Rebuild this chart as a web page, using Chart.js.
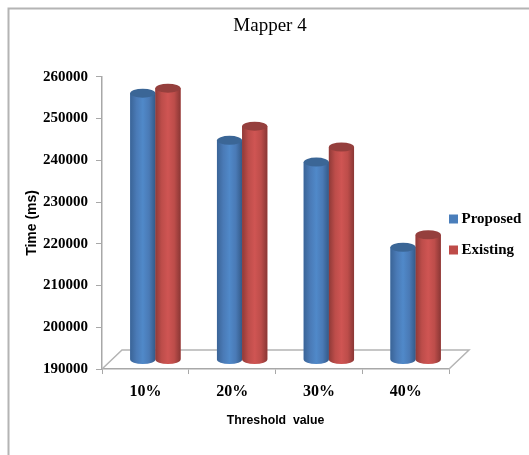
<!DOCTYPE html>
<html>
<head>
<meta charset="utf-8">
<title>Mapper 4</title>
<script src="https://cdn.jsdelivr.net/npm/chart.js@4"></script>
<style>
	html, body { margin: 0; padding: 0; background: #fff; }
	#box { position: relative; width: 529px; height: 455px; overflow: hidden; }
	canvas { display: block; }
</style>
</head>
<body>
<div id="box"><canvas id="mapperChart" width="529" height="455"></canvas></div>
<script>
const categories = ['10%', '20%', '30%', '40%'];
const proposed = [253800, 242500, 237300, 216900];
const existing = [255000, 245900, 240900, 219900];
const yTicks = [190000, 200000, 210000, 220000, 230000, 240000, 250000, 260000];

// floor depth of the fake 3D look
const depthX = 20;
const depthY = 19;

const blueShades = ['#3a6497', '#4a7ab6', '#5089c9', '#4a7ab6', '#345a88'];
const redShades = ['#8f3a38', '#bd4d4a', '#cf5553', '#bd4d4a', '#8a3735'];
const capColors = ['#3b6696', '#953f3d'];
const legendColors = ['#4a7ebb', '#be4b48'];

function cylinderFill(ctx, left, right, shades) {
	const grad = ctx.createLinearGradient(left, 0, right, 0);
	shades.forEach((c, i) => grad.addColorStop(i / (shades.length - 1), c));
	return grad;
}

function drawCylinder(ctx, bar, floorY, shades, capColor) {
	const left = bar.x - bar.width / 2;
	const right = bar.x + bar.width / 2;
	// bars start at value 0 for the library, the visible part ends on the floor
	const base = Math.min(bar.base, floorY);
	const ry = 4.5;
	ctx.fillStyle = cylinderFill(ctx, left, right, shades);
	ctx.beginPath();
	ctx.moveTo(left, bar.y);
	ctx.lineTo(left, base);
	ctx.ellipse(bar.x, base, bar.width / 2, ry, 0, Math.PI, 0, true);
	ctx.lineTo(right, bar.y);
	ctx.closePath();
	ctx.fill();
	ctx.fillStyle = capColor;
	ctx.beginPath();
	ctx.ellipse(bar.x, bar.y, bar.width / 2, ry, 0, 0, Math.PI * 2);
	ctx.fill();
}

const threeD = {
	id: 'threeD',
	// page frame, only top and left are visible
	beforeDraw(chart) {
		const ctx = chart.ctx;
		ctx.save();
		ctx.strokeStyle = '#b4b4b4';
		ctx.lineWidth = 2;
		ctx.beginPath();
		ctx.moveTo(8.5, 455);
		ctx.lineTo(8.5, 8.5);
		ctx.lineTo(529, 8.5);
		ctx.stroke();
		ctx.restore();
	},
	afterLayout(chart) {
		// pull the key over the end of the floor and down next to the bars
		chart.legend.left -= 12;
		chart.legend.top += 13;
		chart.legend.bottom += 13;
		// heading is centred on the page, not on the padded area
		chart.titleBlock.left -= 13;
	},
	beforeDatasetsDraw(chart) {
		const ctx = chart.ctx;
		const a = chart.chartArea;
		ctx.save();
		ctx.strokeStyle = '#b4b4b4';
		ctx.lineWidth = 1.5;
		ctx.beginPath();
		ctx.moveTo(a.left, a.bottom);
		ctx.lineTo(a.left + depthX, a.bottom - depthY);
		ctx.lineTo(a.right + depthX, a.bottom - depthY);
		ctx.lineTo(a.right, a.bottom);
		ctx.stroke();
		ctx.restore();
		// bars stand in the middle of the floor
		ctx.save();
		ctx.translate(depthX / 2, -depthY / 2);
	},
	afterDatasetsDraw(chart) {
		const ctx = chart.ctx;
		const floorY = chart.chartArea.bottom;
		// red goes last so its cap sits over the blue one
		[0, 1].forEach(i => {
			const shades = i === 0 ? blueShades : redShades;
			chart.getDatasetMeta(i).data.forEach(bar => {
				drawCylinder(ctx, bar, floorY, shades, capColors[i]);
			});
		});
		ctx.restore();
	}
};

Chart.defaults.color = '#000';

new Chart(document.getElementById('mapperChart'), {
	type: 'bar',
	data: {
		labels: categories,
		datasets: [
			{ label: 'Proposed', data: proposed, backgroundColor: legendColors[0] },
			{ label: 'Existing', data: existing, backgroundColor: legendColors[1] }
		]
	},
	plugins: [threeD],
	options: {
		responsive: false,
		animation: false,
		layout: { padding: { left: 24, top: 15, right: 0, bottom: 27 } },
		categoryPercentage: 0.58,
		barPercentage: 1,
		plugins: {
			title: {
				display: true,
				text: 'Mapper 4',
				color: '#000',
				font: { family: '"Liberation Serif"', size: 19, weight: 'normal' },
				padding: { top: 0, bottom: 39 }
			},
			legend: {
				position: 'right',
				maxWidth: 80,
				labels: {
					boxWidth: 1,
					boxHeight: 1,
					padding: 16,
					color: '#000',
					font: { family: '"Liberation Serif"', size: 15, weight: 'bold' },
					// thick stroke around a tiny box keeps the label close to the square
					generateLabels(chart) {
						return chart.data.datasets.map((ds, i) => ({
							text: ds.label,
							fillStyle: legendColors[i],
							strokeStyle: legendColors[i],
							lineWidth: 8,
							datasetIndex: i
						}));
					}
				}
			},
			tooltip: { enabled: false }
		},
		scales: {
			x: {
				grid: { drawOnChartArea: false, color: '#a8a8a8', tickLength: 5, lineWidth: 1 },
				border: { color: '#a8a8a8', width: 1.5 },
				ticks: {
					color: '#000',
					padding: 8,
					font: { family: '"Liberation Serif"', size: 16, weight: 'bold' }
				},
				title: {
					display: true,
					text: 'Threshold  value',
					color: '#000',
					font: { family: '"Liberation Sans"', size: 12.3, weight: 'bold' },
					padding: { top: 4, bottom: 0 }
				}
			},
			y: {
				min: yTicks[0],
				max: yTicks[yTicks.length - 1],
				afterBuildTicks(scale) {
					scale.ticks = yTicks.map(v => ({ value: v }));
				},
				afterFit(scale) {
					scale.width = 78;
				},
				grid: { drawOnChartArea: false, color: '#a8a8a8', tickLength: 6, lineWidth: 1 },
				border: { color: '#a8a8a8', width: 1.5 },
				ticks: {
					color: '#000',
					padding: 8,
					font: { family: '"Liberation Serif"', size: 15, weight: 'bold' },
					callback: v => String(v)
				},
				title: {
					display: true,
					text: 'Time (ms)',
					color: '#000',
					font: { family: '"Liberation Sans"', size: 14, weight: 'bold' },
					padding: { top: 0, bottom: 1 }
				}
			}
		}
	}
});
</script>
</body>
</html>
